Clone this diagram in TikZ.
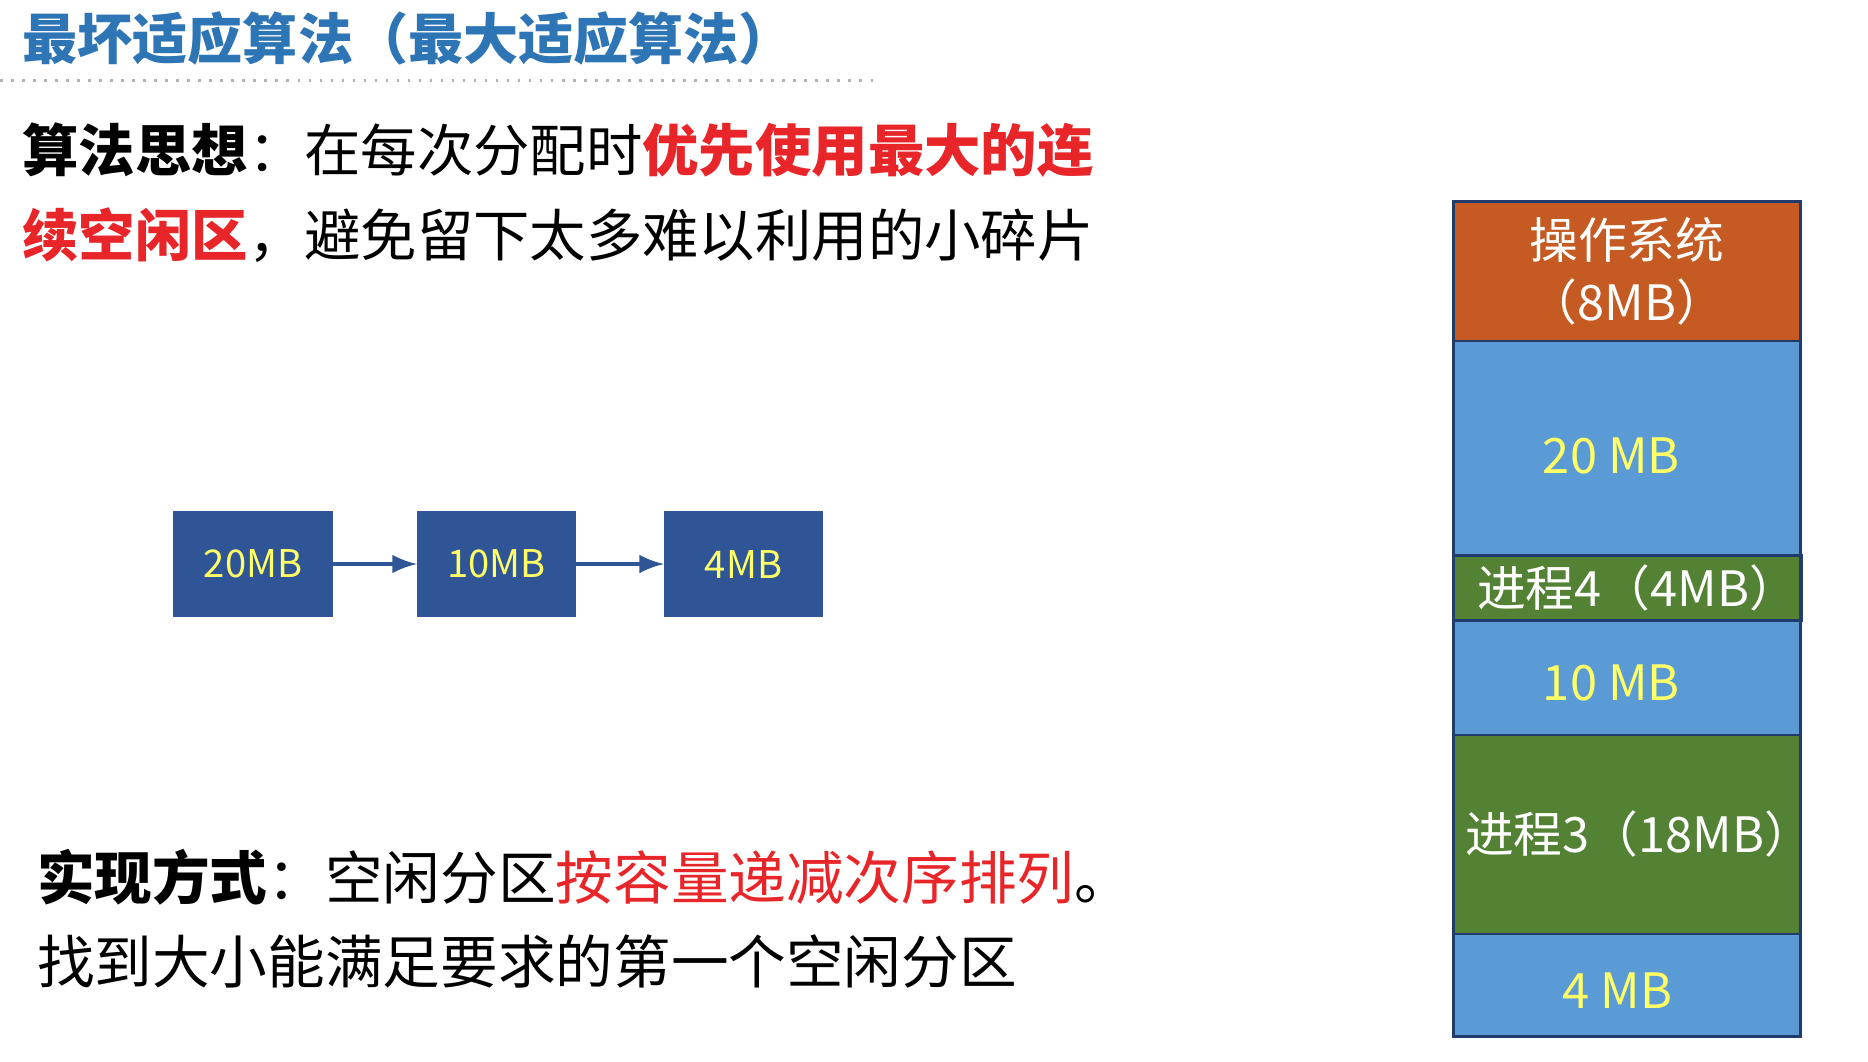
\documentclass[tikz,border=0pt]{standalone}
\usepackage{fontspec}
\setmainfont{Noto Sans CJK SC}
\definecolor{ttl}{HTML}{2E75B6}
\definecolor{rd}{HTML}{E8262A}
\definecolor{bx}{HTML}{2F5597}
\definecolor{os}{HTML}{C55A22}
\definecolor{fr}{HTML}{5B9BD5}
\definecolor{gr}{HTML}{548235}
\definecolor{yl}{HTML}{FFFF66}
\begin{document}
\begin{tikzpicture}[x=0.01cm,y=-0.01cm,
 txt/.style={anchor=west,inner sep=0pt,font=\fontsize{13.3pt}{16pt}\selectfont},
 blk/.style={draw=bx,fill=bx,line width=0.6pt,text=yl,font=\fontsize{9pt}{11pt}\selectfont,minimum width=130*0.01cm,minimum height=86*0.01cm,inner sep=0pt},
 seg/.style={draw=bx!70!black,line width=0.6pt}]
\useasboundingbox (0,0) rectangle (1550,881);
\fill[white] (0,0) rectangle (1550,881);
\node[txt,text=ttl,font=\bfseries\fontsize{13pt}{16pt}\selectfont] (t) at (18,32) {最坏适应算法（最大适应算法）};
\coordinate (l1) at (0,67); \coordinate (l2) at (728,67);
\draw[gray!60,dotted,line width=0.6pt] (l1) -- (l2);
\node[txt] (a1) at (18,125) {\textbf{算法思想}：在每次分配时\textcolor{rd}{\textbf{优先使用最大的连}}};
\node[txt] (a2) at (18,195) {\textcolor{rd}{\textbf{续空闲区}}，避免留下太多难以利用的小碎片};
\node[txt,font=\fontsize{13.6pt}{16pt}\selectfont] (b1) at (30,728) {\textbf{实现方式}：空闲分区\textcolor{rd}{按容量递减次序排列}。};
\node[txt,font=\fontsize{13.6pt}{16pt}\selectfont] (b2) at (30,798) {找到大小能满足要求的第一个空闲分区};
\node[blk] (n1) at (210,468) {20MB};
\node[blk] (n2) at (412,468) {10MB};
\node[blk] (n3) at (617,468) {4MB};
\draw[-latex,bx,line width=1pt] (n1) -- (n2);
\draw[-latex,bx,line width=1pt] (n2) -- (n3);
% memory column
\fill[os] (1206,167) rectangle (1494,283);
\fill[fr] (1206,283) rectangle (1494,461);
\fill[gr] (1206,461) rectangle (1494,515);
\fill[fr] (1206,515) rectangle (1494,610);
\fill[gr] (1206,610) rectangle (1494,775);
\fill[fr] (1206,775) rectangle (1494,860);
\draw[seg] (1206,167) rectangle (1494,860);
\draw[seg] (1206,283) -- (1494,283);
\draw[seg] (1206,461) rectangle (1495,515);
\draw[seg] (1206,610) -- (1494,610);
\draw[seg] (1206,775) -- (1494,775);
\tikzset{ct/.style={inner sep=0pt,font=\fontsize{11.5pt}{14.5pt}\selectfont,align=center}}
\node[ct,text=white] (m0) at (1350,225) {操作系统\\（8MB）};
\node[ct,text=yl] (m1) at (1337,378) {20 MB};
\node[ct,text=white,anchor=west] (m2) at (1225,488) {进程4（4MB）};
\node[ct,text=yl] (m3) at (1337,567) {10 MB};
\node[ct,text=white,anchor=west] (m4) at (1215,692) {进程3（18MB）};
\node[ct,text=yl] (m5) at (1342,822) {4 MB};
\end{tikzpicture}
\end{document}
